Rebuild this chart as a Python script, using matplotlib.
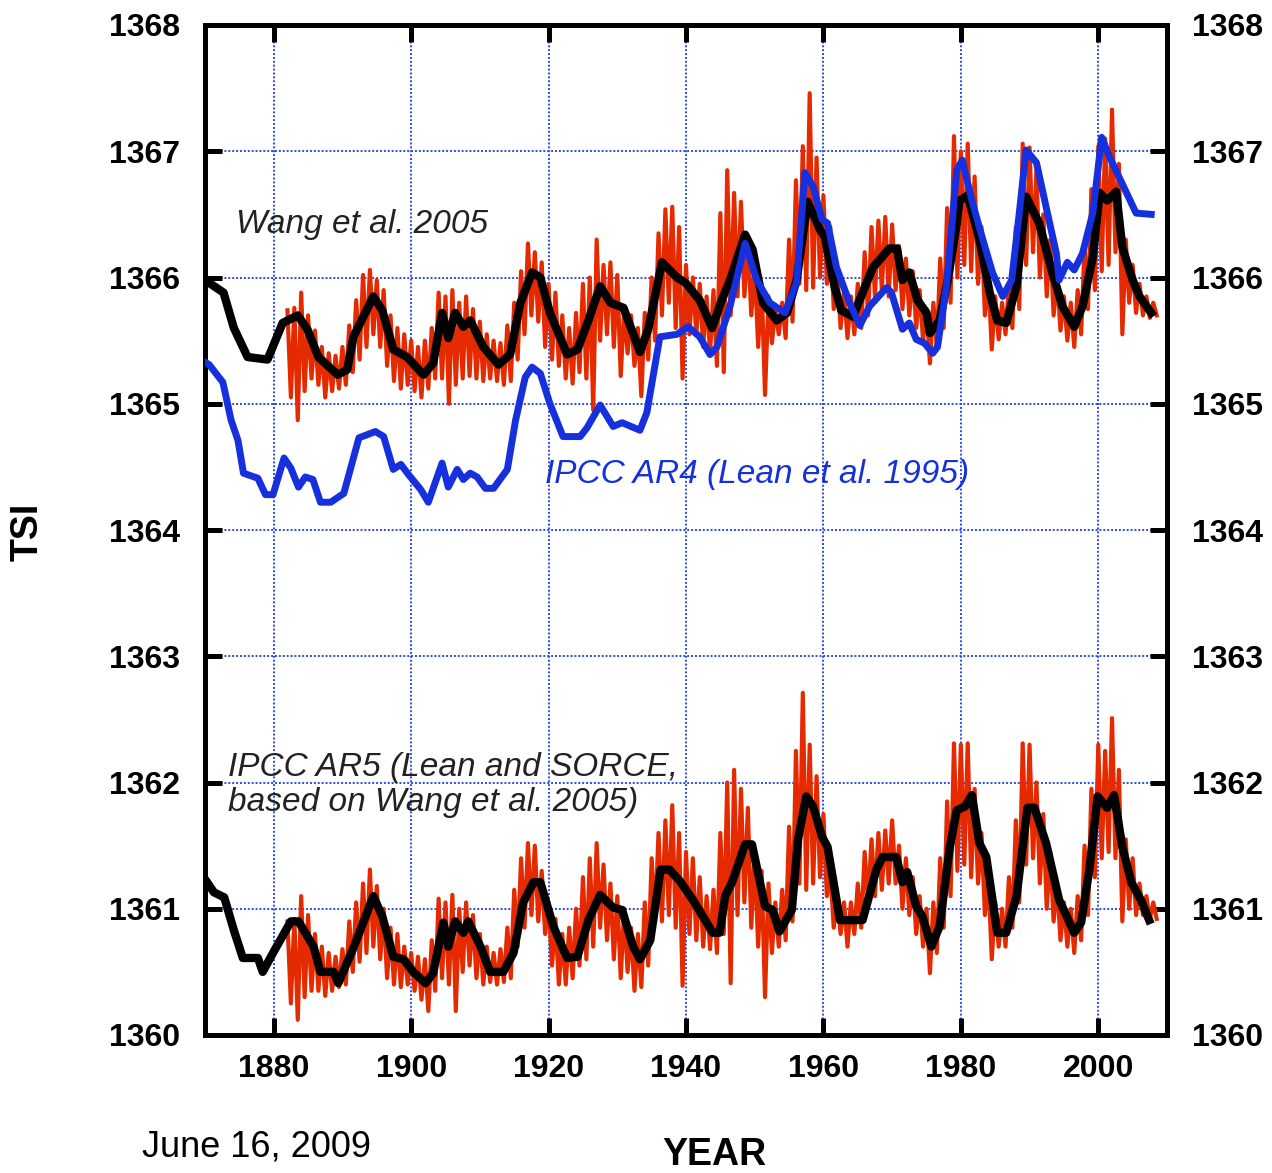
import numpy as np
import matplotlib
matplotlib.use("Agg")
import matplotlib.pyplot as plt

plt.rcParams["font.family"] = ["Liberation Sans", "DejaVu Sans"]

# Wang et al. 2005 (upper black curve)
wang_years = [1870.0, 1872.7, 1874.2, 1876.2, 1879.1, 1881.3, 1883.5, 1884.9, 1886.5, 1889.3,
              1890.7, 1891.6, 1894.5, 1895.8, 1897.4, 1899.4, 1901.8, 1903.2, 1904.5, 1905.4,
              1906.4, 1907.6, 1908.6, 1910.5, 1912.7, 1914.4, 1915.9, 1917.6, 1918.8, 1920.2,
              1922.7, 1924.2, 1925.8, 1927.5, 1929.0, 1930.9, 1933.3, 1934.5, 1936.5, 1938.7,
              1939.9, 1942.0, 1943.8, 1945.2, 1946.4, 1948.6, 1949.7, 1951.2, 1953.2, 1954.7,
              1956.1, 1957.7, 1959.5, 1960.2, 1961.6, 1962.6, 1964.3, 1965.7, 1967.2, 1969.6,
              1970.7, 1971.5, 1972.5, 1973.7, 1975.0, 1975.5, 1976.9, 1978.1, 1979.4, 1979.8,
              1981.0, 1982.7, 1984.2, 1985.3, 1986.6, 1988.1, 1989.5, 1991.4, 1993.3, 1994.8,
              1996.5, 1997.7, 1999.2, 2000.2, 2001.3, 2002.6, 2003.5, 2005.0, 2006.0, 2007.7]
wang_tsi = [1365.98, 1365.88, 1365.60, 1365.37, 1365.35, 1365.64, 1365.70, 1365.59, 1365.37, 1365.23,
            1365.27, 1365.53, 1365.85, 1365.74, 1365.43, 1365.37, 1365.23, 1365.32, 1365.72, 1365.52,
            1365.72, 1365.61, 1365.66, 1365.45, 1365.31, 1365.39, 1365.80, 1366.04, 1366.00, 1365.72,
            1365.39, 1365.43, 1365.66, 1365.93, 1365.80, 1365.76, 1365.41, 1365.59, 1366.12, 1366.00,
            1365.96, 1365.82, 1365.60, 1365.82, 1365.98, 1366.34, 1366.22, 1365.80, 1365.66, 1365.72,
            1365.98, 1366.60, 1366.38, 1366.32, 1365.93, 1365.74, 1365.69, 1365.88, 1366.08, 1366.23,
            1366.23, 1365.98, 1366.04, 1365.82, 1365.72, 1365.56, 1365.66, 1365.98, 1366.43, 1366.61,
            1366.65, 1366.30, 1365.88, 1365.66, 1365.64, 1365.93, 1366.64, 1366.43, 1366.04, 1365.77,
            1365.61, 1365.77, 1366.16, 1366.67, 1366.61, 1366.68, 1366.24, 1365.98, 1365.85, 1365.72]

# IPCC AR4 (Lean et al. 1995), blue curve
lean_years = [1870.0, 1870.6, 1872.6, 1873.8, 1874.8, 1875.6, 1877.7, 1878.8, 1879.9, 1881.5,
              1882.5, 1883.6, 1884.6, 1885.7, 1886.8, 1888.3, 1890.2, 1892.4, 1894.8, 1896.0,
              1897.4, 1898.5, 1899.6, 1901.4, 1902.5, 1904.5, 1905.4, 1906.7, 1907.6, 1908.6,
              1909.6, 1910.8, 1912.0, 1914.0, 1915.2, 1916.6, 1917.6, 1918.8, 1920.2, 1922.1,
              1924.6, 1925.6, 1927.5, 1929.4, 1930.7, 1933.3, 1934.3, 1936.2, 1938.7, 1940.3,
              1942.0, 1943.5, 1944.5, 1946.4, 1948.6, 1950.3, 1952.2, 1954.4, 1956.1, 1957.3,
              1958.5, 1959.8, 1960.6, 1961.9, 1963.8, 1965.3, 1966.7, 1969.2, 1969.9, 1971.5,
              1972.5, 1973.5, 1974.7, 1975.9, 1976.6, 1977.9, 1979.4, 1980.2, 1981.7, 1983.2,
              1984.6, 1986.1, 1987.4, 1988.5, 1989.5, 1991.0, 1992.4, 1993.9, 1994.3, 1995.5,
              1996.5, 1997.7, 1999.2, 2000.5, 2001.6, 2005.5, 2007.7]
lean_tsi = [1365.33, 1365.31, 1365.17, 1364.87, 1364.71, 1364.45, 1364.41, 1364.28, 1364.28, 1364.57,
            1364.49, 1364.34, 1364.42, 1364.40, 1364.22, 1364.22, 1364.29, 1364.73, 1364.78, 1364.74,
            1364.48, 1364.52, 1364.44, 1364.32, 1364.22, 1364.53, 1364.34, 1364.48, 1364.40, 1364.45,
            1364.42, 1364.33, 1364.33, 1364.48, 1364.87, 1365.21, 1365.29, 1365.24, 1365.00, 1364.74,
            1364.74, 1364.81, 1364.99, 1364.82, 1364.85, 1364.79, 1364.93, 1365.53, 1365.55, 1365.61,
            1365.53, 1365.39, 1365.45, 1365.77, 1366.27, 1365.98, 1365.80, 1365.72, 1365.96, 1366.83,
            1366.72, 1366.46, 1366.43, 1366.08, 1365.80, 1365.62, 1365.77, 1365.92, 1365.88, 1365.59,
            1365.64, 1365.51, 1365.48, 1365.40, 1365.45, 1365.93, 1366.85, 1366.93, 1366.59, 1366.30,
            1366.04, 1365.85, 1365.98, 1366.51, 1367.01, 1366.91, 1366.56, 1366.19, 1365.98, 1366.12,
            1366.06, 1366.19, 1366.51, 1367.11, 1366.96, 1366.51, 1366.50]

# IPCC AR5 (Lean and SORCE), lower black curve
ar5_years = [1870.3, 1871.3, 1872.8, 1874.2, 1875.5, 1877.7, 1878.4, 1880.0, 1882.5, 1883.6,
             1885.8, 1886.8, 1888.7, 1889.4, 1891.6, 1893.1, 1894.5, 1895.8, 1897.4, 1898.9,
             1900.3, 1902.1, 1903.2, 1904.7, 1905.4, 1906.4, 1907.6, 1908.3, 1910.1, 1911.5,
             1913.4, 1914.9, 1916.3, 1917.8, 1918.8, 1920.7, 1922.7, 1924.2, 1925.8, 1927.5,
             1929.4, 1930.7, 1932.3, 1933.3, 1934.8, 1936.3, 1937.6, 1939.1, 1941.0, 1943.9,
             1944.9, 1945.7, 1946.7, 1948.6, 1949.6, 1951.5, 1952.6, 1953.6, 1955.4, 1956.3,
             1957.5, 1958.5, 1959.8, 1960.6, 1962.4, 1963.8, 1965.7, 1967.7, 1968.6, 1970.6,
             1971.5, 1972.2, 1973.5, 1974.4, 1975.7, 1976.9, 1978.4, 1979.4, 1980.6, 1981.6,
             1982.7, 1983.7, 1985.3, 1986.6, 1988.1, 1989.7, 1990.7, 1992.4, 1994.3, 1996.5,
             1997.5, 1998.7, 1999.9, 2001.3, 2002.3, 2003.5, 2004.8, 2006.2, 2007.4]
ar5_tsi = [1361.21, 1361.13, 1361.09, 1360.83, 1360.61, 1360.61, 1360.50, 1360.66, 1360.90, 1360.90,
           1360.70, 1360.50, 1360.50, 1360.41, 1360.69, 1360.90, 1361.10, 1360.94, 1360.62, 1360.60,
           1360.50, 1360.41, 1360.49, 1360.89, 1360.70, 1360.90, 1360.81, 1360.90, 1360.70, 1360.50,
           1360.50, 1360.65, 1361.05, 1361.21, 1361.21, 1360.86, 1360.61, 1360.62, 1360.91, 1361.11,
           1361.01, 1360.99, 1360.70, 1360.60, 1360.75, 1361.31, 1361.31, 1361.22, 1361.07, 1360.81,
           1360.81, 1361.10, 1361.21, 1361.51, 1361.51, 1361.02, 1360.99, 1360.82, 1360.99, 1361.55,
           1361.89, 1361.81, 1361.57, 1361.49, 1360.91, 1360.91, 1360.91, 1361.31, 1361.41, 1361.41,
           1361.21, 1361.29, 1361.02, 1360.94, 1360.70, 1360.86, 1361.49, 1361.78, 1361.81, 1361.90,
           1361.52, 1361.41, 1360.81, 1360.81, 1361.10, 1361.80, 1361.80, 1361.52, 1361.07, 1360.81,
           1360.89, 1361.31, 1361.89, 1361.80, 1361.90, 1361.49, 1361.21, 1361.07, 1360.91]

# red (unsmoothed) data: yearly high / low, 1882-2008
red_years = list(range(1882, 2009))
wang_hi = [1365.74, 1365.76, 1365.88, 1365.70, 1365.58, 1365.45, 1365.40, 1365.38, 1365.45, 1365.62,
           1365.82, 1366.02, 1366.06, 1365.98, 1365.90, 1365.70, 1365.60, 1365.55, 1365.50, 1365.45,
           1365.50, 1365.60, 1365.88, 1365.85, 1365.90, 1365.80, 1365.85, 1365.75, 1365.65, 1365.55,
           1365.50, 1365.48, 1365.62, 1365.80, 1366.05, 1366.27, 1366.20, 1366.12, 1365.95, 1365.88,
           1365.70, 1365.60, 1365.72, 1365.95, 1366.00, 1366.30, 1366.10, 1366.12, 1366.02, 1365.75,
           1365.70, 1365.60, 1365.72, 1366.00, 1366.35, 1366.54, 1366.56, 1366.40, 1366.10, 1366.00,
           1365.95, 1365.85, 1365.90, 1366.51, 1366.85, 1366.67, 1366.60, 1366.30, 1366.10, 1365.95,
           1365.85, 1365.75, 1365.80, 1366.30, 1366.77, 1367.04, 1367.46, 1366.95, 1366.65, 1366.40,
           1366.05, 1365.90, 1365.85, 1365.95, 1366.20, 1366.40, 1366.45, 1366.48, 1366.42, 1366.25,
           1366.15, 1366.05, 1365.90, 1365.75, 1365.80, 1366.15, 1366.55, 1367.12, 1367.00, 1367.06,
           1366.80, 1366.40, 1366.00, 1365.85, 1365.80, 1365.95, 1366.40, 1367.06, 1367.03, 1366.85,
           1366.50, 1366.30, 1366.00, 1365.85, 1365.80, 1365.90, 1366.25, 1366.70, 1367.04, 1367.10,
           1367.33, 1366.90, 1366.30, 1366.10, 1365.95, 1365.85, 1365.80]
wang_lo = [1365.05, 1364.87, 1365.10, 1365.20, 1365.15, 1365.05, 1365.10, 1365.12, 1365.15, 1365.25,
           1365.35, 1365.45, 1365.55, 1365.45, 1365.30, 1365.18, 1365.12, 1365.15, 1365.10, 1365.05,
           1365.12, 1365.20, 1365.20, 1365.00, 1365.15, 1365.20, 1365.22, 1365.20, 1365.18, 1365.20,
           1365.18, 1365.15, 1365.18, 1365.35, 1365.55, 1365.70, 1365.65, 1365.45, 1365.35, 1365.30,
           1365.20, 1365.16, 1365.25, 1365.20, 1364.95, 1365.50, 1365.55, 1365.45, 1365.22, 1365.40,
           1365.30, 1365.06, 1365.35, 1365.50, 1365.70, 1365.80, 1365.60, 1365.20, 1365.55, 1365.55,
           1365.45, 1365.40, 1365.30, 1365.25, 1365.70, 1365.85, 1365.85, 1365.70, 1365.45, 1365.07,
           1365.48, 1365.55, 1365.52, 1365.65, 1365.95, 1365.90, 1365.92, 1366.00, 1365.95, 1365.75,
           1365.60, 1365.52, 1365.55, 1365.60, 1365.70, 1365.85, 1365.90, 1365.85, 1365.90, 1365.75,
           1365.70, 1365.60, 1365.50, 1365.32, 1365.45, 1365.60, 1365.80, 1366.00, 1366.10, 1366.05,
           1365.95, 1365.70, 1365.43, 1365.51, 1365.55, 1365.60, 1365.75, 1366.10, 1366.20, 1366.00,
           1365.85, 1365.70, 1365.58, 1365.50, 1365.45, 1365.55, 1365.75, 1365.90, 1366.05, 1366.10,
           1366.20, 1365.55, 1365.80, 1365.72, 1365.70, 1365.68, 1365.70]
ar5_hi = [1360.90, 1360.92, 1361.10, 1360.95, 1360.80, 1360.70, 1360.65, 1360.62, 1360.68, 1360.90,
          1361.05, 1361.20, 1361.31, 1361.18, 1361.00, 1360.85, 1360.80, 1360.70, 1360.65, 1360.62,
          1360.60, 1360.75, 1361.08, 1361.05, 1361.11, 1361.00, 1361.05, 1360.95, 1360.80, 1360.70,
          1360.65, 1360.68, 1360.85, 1361.15, 1361.40, 1361.52, 1361.50, 1361.30, 1361.05, 1360.92,
          1360.80, 1360.85, 1361.00, 1361.25, 1361.40, 1361.52, 1361.35, 1361.20, 1361.10, 1361.00,
          1360.85, 1360.80, 1361.05, 1361.40, 1361.60, 1361.70, 1361.82, 1361.60, 1361.45, 1361.40,
          1361.25, 1361.10, 1361.15, 1361.60, 1362.00, 1362.10, 1361.95, 1361.80, 1361.45, 1361.30,
          1361.20, 1361.05, 1361.15, 1361.65, 1362.25, 1362.71, 1362.30, 1362.05, 1361.75, 1361.30,
          1361.10, 1361.05, 1361.05, 1361.20, 1361.45, 1361.55, 1361.60, 1361.62, 1361.70, 1361.50,
          1361.40, 1361.25, 1361.10, 1361.00, 1361.05, 1361.40, 1361.85, 1362.31, 1362.30, 1362.31,
          1361.95, 1361.60, 1361.25, 1361.05, 1361.00, 1361.25, 1361.70, 1362.31, 1362.30, 1362.00,
          1361.75, 1361.45, 1361.20, 1361.05, 1361.00, 1361.10, 1361.50, 1361.95, 1362.30, 1362.25,
          1362.51, 1362.10, 1361.55, 1361.40, 1361.20, 1361.10, 1361.05]
ar5_lo = [1360.25, 1360.12, 1360.30, 1360.35, 1360.35, 1360.31, 1360.35, 1360.38, 1360.40, 1360.50,
          1360.58, 1360.65, 1360.70, 1360.60, 1360.45, 1360.40, 1360.38, 1360.40, 1360.35, 1360.28,
          1360.19, 1360.35, 1360.45, 1360.40, 1360.19, 1360.50, 1360.55, 1360.45, 1360.40, 1360.42,
          1360.40, 1360.42, 1360.45, 1360.70, 1360.85, 1360.95, 1360.90, 1360.80, 1360.55, 1360.40,
          1360.40, 1360.45, 1360.55, 1360.60, 1360.70, 1360.85, 1360.75, 1360.60, 1360.45, 1360.50,
          1360.35, 1360.38, 1360.55, 1360.90, 1360.90, 1360.95, 1360.85, 1360.39, 1360.80, 1360.75,
          1360.70, 1360.68, 1360.65, 1360.80, 1360.41, 1360.95, 1361.05, 1360.85, 1360.70, 1360.30,
          1360.65, 1360.70, 1360.75, 1360.90, 1361.20, 1361.15, 1361.20, 1361.25, 1361.10, 1360.85,
          1360.80, 1360.70, 1360.80, 1360.85, 1361.05, 1361.10, 1361.15, 1361.20, 1361.20, 1361.00,
          1360.95, 1360.80, 1360.70, 1360.49, 1360.65, 1360.85, 1361.10, 1361.30, 1361.35, 1361.25,
          1361.20, 1360.95, 1360.60, 1360.70, 1360.70, 1360.85, 1361.05, 1361.35, 1361.40, 1361.20,
          1361.00, 1360.90, 1360.75, 1360.70, 1360.65, 1360.75, 1360.95, 1361.25, 1361.40, 1361.45,
          1361.40, 1360.90, 1361.00, 1360.95, 1360.95, 1360.92, 1360.92]

x_ticks = [1880, 1900, 1920, 1940, 1960, 1980, 2000]
y_ticks = [1360, 1361, 1362, 1363, 1364, 1365, 1366, 1367, 1368]

RED = "#e62a00"
BLUE = "#1530dc"


def red_trace(years, hi, lo):
    # high then low inside each year -> a dense zigzag of spikes
    xs = np.repeat(np.array(years, dtype=float), 2) + np.tile([0.0, 0.5], len(years))
    ys = np.column_stack([hi, lo]).ravel()
    return xs, ys


fig = plt.figure(figsize=(12.72, 11.73), dpi=100)
ax = fig.add_axes([205 / 1272, 1 - 1035 / 1173, 962 / 1272, 1010 / 1173])

ax.set_xlim(1870, 2010)
ax.set_ylim(1360, 1368)
ax.set_xticks(x_ticks)
ax.set_yticks(y_ticks)
ax.grid(True, color="#2a4be6", linestyle=(0, (1, 1)), linewidth=1.4)
ax.set_axisbelow(True)

for s in ax.spines.values():
    s.set_linewidth(3.6)
ax.tick_params(direction="in", length=12, width=3.6, top=True, right=True,
               labelright=True, labelsize=23, pad=14)
ax.tick_params(axis="y", pad=18)
for lab in ax.get_xticklabels() + ax.get_yticklabels():
    lab.set_fontweight("bold")
for t in ax.yaxis.get_major_ticks():
    t.label2.set_fontweight("bold")

xs, ys = red_trace(red_years, wang_hi, wang_lo)
ax.plot(xs, ys, color=RED, linewidth=3.0, zorder=2)
xs, ys = red_trace(red_years, ar5_hi, ar5_lo)
ax.plot(xs, ys, color=RED, linewidth=3.0, zorder=2)

ax.plot(wang_years, wang_tsi, color="black", linewidth=6.0, zorder=3)
ax.plot(ar5_years, ar5_tsi, color="black", linewidth=6.0, zorder=3)
ax.plot(lean_years, lean_tsi, color=BLUE, linewidth=5.0, zorder=4)

ax.text(1874.5, 1366.42, "Wang et al. 2005", fontsize=24, style="italic",
        color="#222222", va="center")
ax.text(1919.5, 1364.44, "IPCC AR4 (Lean et al. 1995)", fontsize=24, style="italic",
        color=BLUE, va="center")
ax.text(1873.4, 1361.98, "IPCC AR5 (Lean and SORCE,\nbased on Wang et al. 2005)",
        fontsize=24, style="italic", color="#222222", va="center", linespacing=1.15)

fig.text(28 / 1272, 1 - 532 / 1173, "TSI", rotation=90, fontsize=27,
         fontweight="bold", ha="center", va="center")
fig.text(714 / 1272, 1 - 1155 / 1173, "YEAR", fontsize=27, fontweight="bold",
         ha="center", va="center")
fig.text(142 / 1272, 1 - 1147 / 1173, "June 16, 2009", fontsize=26,
         ha="left", va="center")

fig.savefig("out.png", dpi=100)
